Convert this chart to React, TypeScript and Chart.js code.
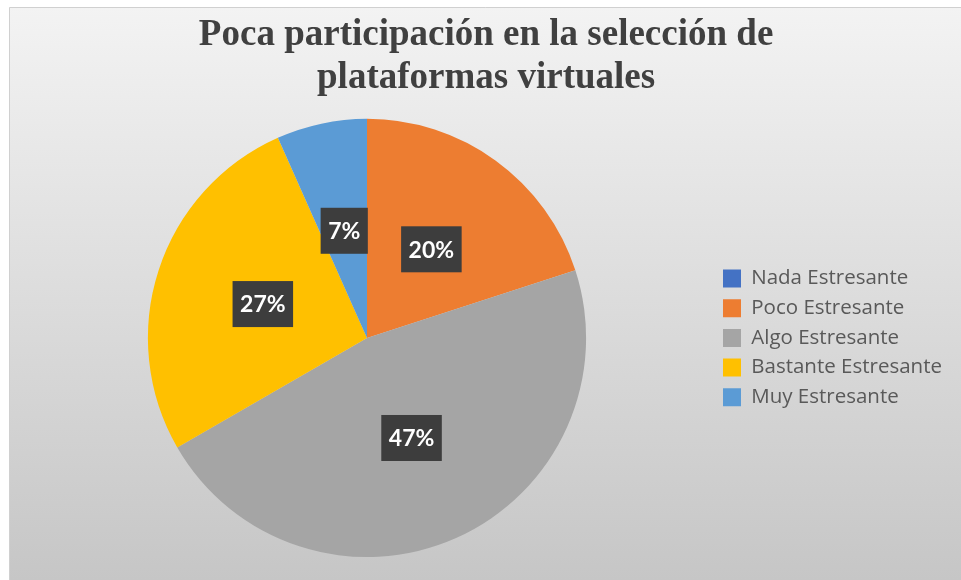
import React, { useEffect, useRef } from "react";
import { Chart, registerables } from "chart.js";

Chart.register(...registerables);

const titleLines = ["Poca participación en la selección de", "plataformas virtuales"];
const categories = [
  "Nada Estresante",
  "Poco Estresante",
  "Algo Estresante",
  "Bastante Estresante",
  "Muy Estresante",
];
const counts = [0, 3, 7, 4, 1];
const sliceColors = ["#4472C4", "#ED7D31", "#A5A5A5", "#FFC000", "#5B9BD5"];

const W = 961;
const H = 580;
const LEGEND_FONT = 20.5;
const LEGEND_FAMILY = "'Open Sans', Lato, sans-serif";
const LEGEND_PAD = 9.2;
const BOX_W = 18;
const LEGEND_BOX_X = 723;

const backgroundPlugin = {
  id: "frameBg",
  beforeDraw(chart: any) {
    const ctx = chart.ctx;
    ctx.save();
    ctx.fillStyle = "#ffffff";
    ctx.fillRect(0, 0, W, H);
    const g = ctx.createLinearGradient(0, 7, 0, H);
    g.addColorStop(0, "#f3f3f3");
    g.addColorStop(1, "#c6c6c6");
    ctx.fillStyle = g;
    ctx.fillRect(9, 7, W - 9, H - 7);
    ctx.strokeStyle = "#d0d0d0";
    ctx.lineWidth = 1;
    ctx.beginPath();
    ctx.moveTo(9.5, H);
    ctx.lineTo(9.5, 7.5);
    ctx.lineTo(W, 7.5);
    ctx.stroke();
    ctx.restore();
  },
};

const labelPlugin = {
  id: "pctLabels",
  afterDatasetsDraw(chart: any) {
    const ctx = chart.ctx;
    const meta = chart.getDatasetMeta(0);
    const total = counts.reduce((a, b) => a + b, 0);
    ctx.save();
    ctx.font = "bold 23px Lato, 'Open Sans', sans-serif";
    ctx.textAlign = "center";
    ctx.textBaseline = "middle";
    meta.data.forEach((arc: any, i: number) => {
      const v = counts[i];
      if (!v) return;
      const { x, y } = arc.tooltipPosition();
      const txt = Math.round((v / total) * 100) + "%";
      const w = ctx.measureText(txt).width + 15;
      const h = 46;
      ctx.fillStyle = "#3d3d3d";
      ctx.fillRect(x - w / 2, y - h / 2, w, h);
      ctx.fillStyle = "#ffffff";
      ctx.fillText(txt, x, y + 1);
    });
    ctx.restore();
  },
};

export default function App() {
  const ref = useRef<HTMLCanvasElement | null>(null);

  useEffect(() => {
    const canvas = ref.current;
    if (!canvas) return;

    const m = document.createElement("canvas").getContext("2d")!;
    m.font = `${LEGEND_FONT}px ${LEGEND_FAMILY}`;
    const tw = Math.max(...categories.map((c) => m.measureText(c).width));
    const legendLeft = LEGEND_BOX_X - LEGEND_PAD;
    const legendWidth = LEGEND_PAD + BOX_W + LEGEND_FONT / 2 + tw + 10;
    const padRight = Math.max(0, W - legendLeft - legendWidth);
    const pieCenterX = 367;
    const padLeft = 2 * pieCenterX - legendLeft;

    const chart = new Chart(canvas, {
      type: "pie",
      data: {
        labels: categories,
        datasets: [
          {
            data: counts,
            backgroundColor: sliceColors,
            borderWidth: 0,
            hoverOffset: 0,
          },
        ],
      },
      options: {
        responsive: false,
        animation: false,
        layout: { padding: { top: 0, bottom: 23, left: padLeft, right: padRight } },
        plugins: {
          title: {
            display: true,
            text: titleLines,
            color: "#404040",
            font: { family: "'Liberation Serif', 'Times New Roman', serif", size: 37, weight: "bold", lineHeight: 1.16 },
            padding: { top: 14, bottom: 19 },
          },
          legend: {
            position: "right",
            align: "center",
            fullSize: false,
            labels: {
              color: "#595959",
              font: { family: LEGEND_FAMILY, size: LEGEND_FONT, lineHeight: 1.2 },
              boxWidth: BOX_W,
              boxHeight: 18,
              padding: LEGEND_PAD,
            },
          },
          tooltip: { enabled: false },
        },
      },
      plugins: [backgroundPlugin, labelPlugin],
    });

    return () => chart.destroy();
  }, []);

  return (
    <div style={{ position: "absolute", left: 0, top: 0, width: W, height: H }}>
      <canvas ref={ref} width={W} height={H} style={{ display: "block" }} />
    </div>
  );
}
